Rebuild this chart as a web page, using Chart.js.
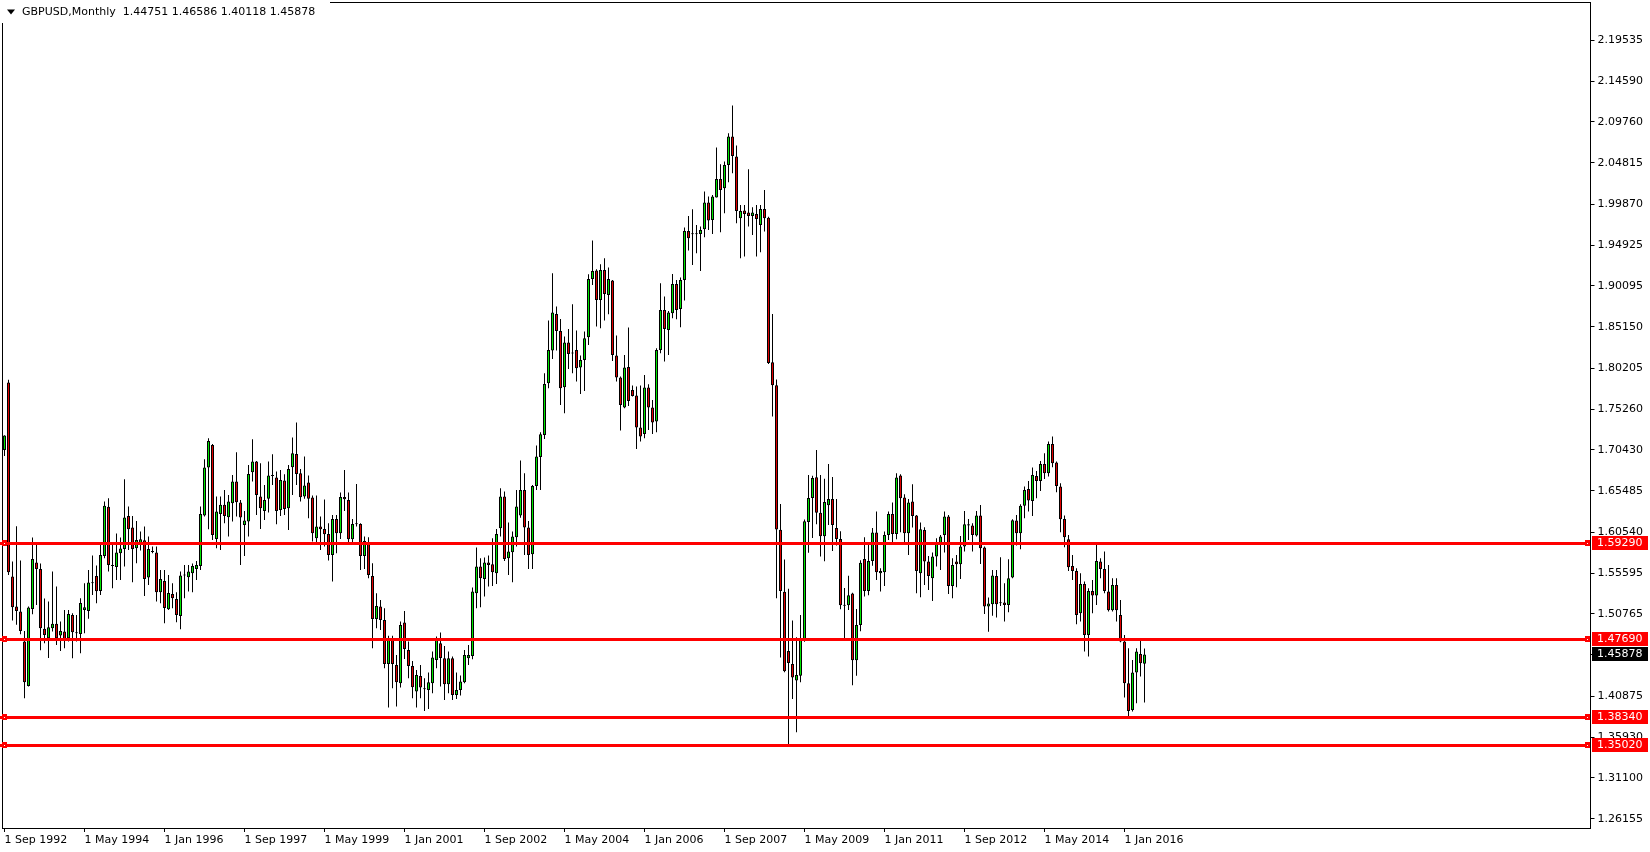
<!DOCTYPE html>
<html>
<head>
<meta charset="utf-8">
<title>GBPUSD Monthly</title>
<script src="https://cdn.jsdelivr.net/npm/chart.js@4.4.1/dist/chart.umd.min.js"></script>
<style>
  html, body { margin: 0; padding: 0; background: #fff; }
  #wrap { width: 1650px; height: 852px; }
</style>
</head>
<body>
<div id="wrap"><canvas id="chart" width="1650" height="852"></canvas></div>
<script>
// Monthly GBPUSD candles, Sep 1992 .. Jun 2016
const opens = [
  1.7040,1.7848,1.5521,1.5161,1.5101,1.4742,1.4210,1.5133,1.5689,1.5613,1.4894,1.4782,1.4902,1.4954,1.4814,1.4862,1.4782,1.5061,1.4850,1.4834,
  1.5121,1.5109,1.5441,1.5529,1.5349,1.5769,1.6357,1.5661,1.5637,1.5801,1.5853,1.6249,1.6109,1.5861,1.5921,1.5957,1.5509,1.5817,1.5809,1.5333,
  1.5469,1.5129,1.5313,1.5253,1.5049,1.5533,1.5513,1.5561,1.5613,1.5649,1.6253,1.6828,1.7100,1.5973,1.6273,1.6381,1.6233,1.6401,1.6660,1.6409,
  1.6141,1.6181,1.6772,1.6900,1.6480,1.6309,1.6453,1.6728,1.6708,1.6321,1.6672,1.6341,1.6832,1.6992,1.6760,1.6480,1.6648,1.6468,1.5981,1.6121,
  1.6093,1.6033,1.5781,1.6213,1.6041,1.6476,1.6440,1.5969,1.6157,1.6153,1.5769,1.5929,1.5529,1.5013,1.5161,1.5001,1.4474,1.4762,1.4462,1.4242,
  1.4969,1.4642,1.4450,1.4142,1.4330,1.4178,1.4162,1.4242,1.4522,1.4722,1.4542,1.4230,1.4542,1.4102,1.4162,1.4254,1.4542,1.4570,1.5321,1.5641,
  1.5493,1.5689,1.5669,1.5561,1.6101,1.6480,1.5741,1.5813,1.5993,1.6253,1.6560,1.6109,1.5789,1.6608,1.6956,1.7220,1.7840,1.8231,1.8671,1.8467,
  1.7792,1.8327,1.8195,1.8239,1.8027,1.8119,1.8391,1.9091,1.9191,1.8839,1.9199,1.8899,1.9071,1.8171,1.7907,1.7548,1.8035,1.7760,1.7692,1.7308,
  1.7232,1.7788,1.7548,1.7380,1.8239,1.8719,1.8479,1.8679,1.9031,1.8731,1.9079,1.9666,1.9634,1.9626,1.9630,1.9686,2.0006,1.9798,2.0066,2.0290,
  2.0178,2.0458,2.0797,2.0558,1.9818,1.9910,1.9886,1.9846,1.9870,1.9738,1.9930,1.9823,1.8092,1.7817,1.6082,1.5340,1.4630,1.4474,1.4275,1.4333,
  1.4764,1.6175,1.6463,1.6712,1.6286,1.6006,1.6375,1.6450,1.6104,1.5971,1.5176,1.5176,1.5318,1.4519,1.4941,1.5731,1.5349,1.5709,1.6049,1.5561,
  1.5573,1.6021,1.6272,1.6033,1.6732,1.6468,1.6041,1.6420,1.6253,1.5561,1.6081,1.5701,1.5501,1.5761,1.5921,1.6021,1.6241,1.5409,1.5701,1.5669,
  1.5881,1.6149,1.6133,1.6013,1.6253,1.5869,1.5161,1.5189,1.5529,1.5201,1.5209,1.5181,1.5509,1.6193,1.6041,1.6369,1.6572,1.6428,1.6728,1.6668,
  1.6872,1.6760,1.7112,1.6888,1.6600,1.6213,1.5969,1.5649,1.5589,1.5081,1.5433,1.4822,1.5349,1.5293,1.5701,1.5613,1.5341,1.5117,1.5421,1.5061,
  1.4742,1.4242,1.3922,1.4370,1.4594,1.44751
];
const highs = [
  1.7215,1.7880,1.5701,1.6125,1.5713,1.4870,1.5161,1.5989,1.5909,1.5677,1.5257,1.5221,1.5581,1.5401,1.4982,1.5121,1.5121,1.5081,1.5061,1.5261,
  1.5441,1.5601,1.5773,1.5653,1.5909,1.6421,1.6461,1.5909,1.6037,1.5989,1.6688,1.6361,1.6249,1.6189,1.6061,1.6121,1.6001,1.5881,1.5881,1.5601,
  1.5601,1.5541,1.5441,1.5333,1.5581,1.5661,1.5661,1.5677,1.5709,1.6361,1.6928,1.7180,1.7112,1.6480,1.6480,1.6560,1.6500,1.6740,1.7012,1.6440,
  1.6309,1.6860,1.7168,1.6908,1.6880,1.6620,1.6900,1.6988,1.6780,1.6800,1.6748,1.6860,1.7188,1.7368,1.6812,1.6960,1.6732,1.6492,1.6492,1.6241,
  1.6444,1.6161,1.6261,1.6261,1.6528,1.6800,1.6528,1.6213,1.6632,1.6161,1.6001,1.5993,1.5681,1.5321,1.5241,1.5141,1.4813,1.4813,1.4582,1.4981,
  1.5109,1.4742,1.4510,1.4402,1.4462,1.4302,1.4370,1.4622,1.4802,1.4850,1.4690,1.4622,1.4562,1.4370,1.4334,1.4642,1.4702,1.5389,1.5869,1.5741,
  1.5749,1.5773,1.5981,1.6093,1.6580,1.6540,1.6169,1.6061,1.6560,1.6912,1.6760,1.6189,1.6620,1.7092,1.7252,1.7959,1.8591,1.9159,1.8759,1.8611,
  1.8399,1.8491,1.8787,1.8471,1.8171,1.8459,1.9147,1.9550,1.9207,1.9267,1.9338,1.9227,1.9079,1.8411,1.7919,1.8179,1.8507,1.7812,1.7800,1.7812,
  1.7939,1.7828,1.7640,1.8259,1.9039,1.8879,1.8707,1.9151,1.9079,1.9107,1.9706,1.9846,1.9926,1.9738,1.9718,2.0138,2.0078,2.0098,2.0666,2.0466,
  2.0498,2.0837,2.1169,2.0690,1.9978,1.9978,2.0406,1.9950,1.9978,1.9978,2.0158,1.9837,1.8669,1.7884,1.6392,1.5727,1.5376,1.4994,1.4795,1.5061,
  1.6206,1.6738,1.6730,1.7040,1.6738,1.6694,1.6872,1.6716,1.6450,1.6064,1.5385,1.5531,1.5327,1.5132,1.5718,1.5993,1.5926,1.6104,1.6301,1.5621,
  1.6061,1.6301,1.6408,1.6760,1.6748,1.6508,1.6452,1.6628,1.6261,1.6169,1.6113,1.5769,1.5809,1.5981,1.6021,1.6301,1.6261,1.5741,1.5781,1.6009,
  1.6309,1.6213,1.6161,1.6309,1.6380,1.5881,1.5269,1.5601,1.5601,1.5753,1.5441,1.5729,1.6209,1.6261,1.6389,1.6600,1.6668,1.6828,1.6788,1.6908,
  1.7000,1.7140,1.7200,1.6900,1.6640,1.6253,1.6021,1.5781,1.5620,1.5561,1.5461,1.5381,1.5481,1.5921,1.5741,1.5821,1.5661,1.5501,1.5501,1.5241,
  1.4822,1.4662,1.4522,1.4662,1.4774,1.46586
];
const lows = [
  1.6968,1.5541,1.4993,1.4942,1.4830,1.4062,1.4202,1.5069,1.5181,1.4638,1.4722,1.4546,1.4862,1.4702,1.4630,1.4662,1.4742,1.4542,1.4742,1.4602,
  1.4842,1.5014,1.5301,1.5201,1.5301,1.5741,1.5581,1.5381,1.5481,1.5481,1.5641,1.5841,1.5453,1.5681,1.5833,1.5289,1.5421,1.5801,1.5221,1.5201,
  1.4961,1.5121,1.5141,1.4973,1.4889,1.5261,1.5341,1.5333,1.5481,1.5601,1.6241,1.6089,1.5961,1.5861,1.5841,1.6161,1.6001,1.6181,1.6241,1.5661,
  1.5769,1.6001,1.6660,1.6261,1.6093,1.6201,1.6289,1.6620,1.6149,1.6249,1.6261,1.6081,1.6500,1.6620,1.6420,1.6453,1.6221,1.5941,1.5933,1.5841,
  1.5881,1.5713,1.5461,1.5801,1.5973,1.6308,1.5909,1.5921,1.6121,1.5601,1.5613,1.5501,1.4662,1.4901,1.4881,1.4422,1.3950,1.4182,1.3962,1.4190,
  1.4534,1.4302,1.4062,1.3950,1.4062,1.3910,1.3934,1.4122,1.4422,1.4202,1.4042,1.4122,1.4042,1.4054,1.4094,1.4242,1.4462,1.4530,1.5141,1.5153,
  1.5281,1.5401,1.5409,1.5433,1.6001,1.5709,1.5541,1.5453,1.5881,1.6228,1.5781,1.5613,1.5613,1.6560,1.6560,1.7172,1.7780,1.8131,1.8231,1.7580,
  1.7480,1.8011,1.7959,1.7859,1.7712,1.7747,1.8299,1.9019,1.8519,1.8499,1.8591,1.8667,1.8107,1.7860,1.7272,1.7540,1.7568,1.7680,1.7052,1.7140,
  1.7180,1.7280,1.7232,1.7252,1.8199,1.8099,1.8179,1.8619,1.8607,1.8511,1.8831,1.9430,1.9258,1.9398,1.9187,1.9590,1.9678,1.9630,2.0066,1.9650,
  1.9878,2.0250,2.0358,1.9758,1.9338,1.9358,1.9718,1.9618,1.9358,1.9410,1.9658,1.8070,1.7440,1.5261,1.4550,1.4373,1.3499,1.4053,1.3654,1.4253,
  1.4741,1.5807,1.5984,1.6148,1.5762,1.5704,1.6139,1.5829,1.5895,1.5128,1.4777,1.5119,1.4218,1.4333,1.4866,1.5283,1.5296,1.5651,1.5481,1.5341,
  1.5409,1.5961,1.5933,1.5969,1.6053,1.5909,1.5781,1.6109,1.5321,1.5273,1.5421,1.5361,1.5229,1.5641,1.5601,1.5809,1.5313,1.5261,1.5393,1.5493,
  1.5821,1.5961,1.5821,1.6001,1.5673,1.5073,1.4861,1.5050,1.5029,1.5169,1.4981,1.5093,1.5501,1.5893,1.5849,1.6221,1.6301,1.6249,1.6460,1.6548,
  1.6692,1.6720,1.6832,1.6532,1.6053,1.5873,1.5589,1.5481,1.4950,1.4981,1.4622,1.4562,1.5081,1.5181,1.5501,1.5321,1.5101,1.5101,1.4981,1.4734,
  1.4070,1.3842,1.3902,1.4002,1.4322,1.40118
];
const closes = [
  1.7212,1.5573,1.5153,1.5109,1.4870,1.4254,1.5149,1.5733,1.5613,1.4902,1.4822,1.4913,1.4954,1.4782,1.4870,1.4762,1.5073,1.4854,1.4842,1.5205,
  1.5153,1.5449,1.5445,1.5345,1.5781,1.6369,1.5661,1.5649,1.5809,1.5857,1.6229,1.6089,1.5853,1.5961,1.5969,1.5493,1.5853,1.5821,1.5333,1.5493,
  1.5145,1.5325,1.5261,1.5061,1.5533,1.5537,1.5581,1.5649,1.5661,1.6273,1.6828,1.7148,1.6021,1.6301,1.6381,1.6249,1.6420,1.6660,1.6412,1.6229,
  1.6193,1.6752,1.6900,1.6500,1.6341,1.6440,1.6732,1.6732,1.6309,1.6680,1.6333,1.6812,1.7000,1.6752,1.6472,1.6612,1.6453,1.6041,1.6121,1.6089,
  1.6029,1.5781,1.6213,1.6041,1.6476,1.6448,1.5969,1.6153,1.6149,1.5769,1.5949,1.5541,1.5013,1.5169,1.5001,1.4474,1.4782,1.4474,1.4254,1.4941,
  1.4654,1.4450,1.4194,1.4342,1.4190,1.4170,1.4254,1.4550,1.4770,1.4546,1.4230,1.4542,1.4102,1.4162,1.4262,1.4582,1.4582,1.5341,1.5641,1.5501,
  1.5689,1.5661,1.5573,1.6033,1.6480,1.5733,1.5821,1.6001,1.6361,1.6560,1.6109,1.5781,1.6608,1.6960,1.7228,1.7831,1.8239,1.8687,1.8467,1.7780,
  1.8327,1.8191,1.8199,1.8019,1.8119,1.8379,1.9091,1.9187,1.8839,1.9199,1.8911,1.9091,1.8179,1.7907,1.7580,1.8027,1.7628,1.7688,1.7308,1.7200,
  1.7788,1.7548,1.7368,1.8239,1.8719,1.8491,1.8687,1.9031,1.8719,1.9079,1.9666,1.9578,1.9626,1.9630,1.9678,2.0006,1.9790,2.0078,2.0290,2.0158,
  2.0458,2.0797,2.0566,1.9906,1.9906,1.9870,1.9846,1.9886,1.9810,1.9930,1.9818,1.8083,1.7817,1.6086,1.5349,1.4386,1.4484,1.4311,1.4342,1.4777,
  1.6184,1.6463,1.6703,1.6286,1.6006,1.6415,1.6450,1.6139,1.5971,1.5176,1.5170,1.5296,1.4519,1.4941,1.5687,1.5349,1.5709,1.6049,1.5573,1.5589,
  1.6021,1.6272,1.6033,1.6708,1.6460,1.6041,1.6408,1.6249,1.5589,1.6089,1.5701,1.5529,1.5761,1.5929,1.6001,1.6241,1.5409,1.5661,1.5669,1.5881,
  1.6149,1.6133,1.6021,1.6253,1.5861,1.5161,1.5197,1.5533,1.5189,1.5205,1.5181,1.5501,1.6197,1.6041,1.6369,1.6560,1.6432,1.6740,1.6668,1.6872,
  1.6760,1.7112,1.6880,1.6608,1.6209,1.5993,1.5633,1.5589,1.5061,1.5433,1.4822,1.5349,1.5293,1.5709,1.5613,1.5349,1.5117,1.5421,1.5117,1.4742,
  1.4242,1.3910,1.4370,1.4622,1.4482,1.45878
];

// Price axis tick labels as printed on the right
const yTicks = [1.26155, 1.31100, 1.35930, 1.40875, 1.45820, 1.50765, 1.55595, 1.60540, 1.65485, 1.70430,
                1.75260, 1.80205, 1.85150, 1.90095, 1.94925, 1.99870, 2.04815, 2.09760, 2.14590, 2.19535];
// Horizontal levels drawn in red
const levels = [1.59290, 1.47690, 1.38340, 1.35020];

const symbol = 'GBPUSD,Monthly';
const monthNames = ['Jan', 'Feb', 'Mar', 'Apr', 'May', 'Jun', 'Jul', 'Aug', 'Sep', 'Oct', 'Nov', 'Dec'];
const slotCount = 397;   // visible bar slots incl. empty space on the right
const labelEvery = 20;

const labels = [];
for (let i = 0; i < slotCount; i++) {
    const m = 8 + i;
    labels.push('1 ' + monthNames[m % 12] + ' ' + (1992 + Math.floor(m / 12)));
}

const last = opens.length - 1;
const bullColor = '#00e600';
const bearColor = '#e00000';
const font = { family: '"DejaVu Sans", sans-serif', size: 11 };

const overlay = {
    id: 'overlay',
    beforeDraw(chart) {
        const c = chart.ctx;
        c.save();
        c.fillStyle = '#fff';
        c.fillRect(0, 0, chart.width, chart.height);
        c.restore();
    },
    afterDraw(chart) {
        const c = chart.ctx;
        const a = chart.chartArea;
        const y = chart.scales.y;
        const r = Math.floor(a.right);
        c.save();

        // chart frame
        c.strokeStyle = '#000';
        c.lineWidth = 1;
        c.strokeRect(Math.floor(a.left) + 0.5, Math.floor(a.top) + 0.5,
                     r - Math.floor(a.left), Math.floor(a.bottom) - Math.floor(a.top));

        // red levels with markers and price boxes
        c.font = '11px "DejaVu Sans", sans-serif';
        c.textBaseline = 'middle';
        levels.forEach(lv => {
            const py = Math.round(y.getPixelForValue(lv));
            c.fillStyle = '#ff0000';
            c.fillRect(0, py - 1, r, 3);
            c.fillRect(2, py - 3, 5, 6);
            c.fillRect(r - 5, py - 3, 5, 6);
            c.fillRect(r + 2, py - 7, 56, 14);
            c.fillStyle = '#fff';
            c.fillRect(4, py, 1, 1);
            c.fillRect(r - 3, py, 1, 1);
            c.fillText(lv.toFixed(5), r + 7, py + 0.5);
        });

        // current price box
        const cp = Math.round(y.getPixelForValue(closes[last]));
        c.fillStyle = '#000';
        c.fillRect(r + 2, cp - 7, 56, 14);
        c.fillStyle = '#fff';
        c.fillText(closes[last].toFixed(5), r + 7, cp + 0.5);

        // header
        c.fillStyle = '#fff';
        c.fillRect(0, 0, 330, 23);
        c.fillStyle = '#000';
        c.beginPath();
        c.moveTo(7, 9.5);
        c.lineTo(15, 9.5);
        c.lineTo(11, 14.5);
        c.closePath();
        c.fill();
        const head = symbol + '  ' + [opens[last], highs[last], lows[last], closes[last]].map(v => v.toFixed(5)).join(' ');
        c.fillText(head, 22, 12.5);
        c.restore();
    }
};

const ctx = document.getElementById('chart');
new Chart(ctx, {
    type: 'bar',
    data: {
        labels: labels,
        datasets: [
            {
                // candle bodies
                data: opens.map((o, i) => [o, closes[i]]),
                backgroundColor: opens.map((o, i) => closes[i] >= o ? bullColor : bearColor),
                borderColor: '#000',
                borderWidth: 1,
                borderSkipped: false,
                barThickness: 3,
                minBarLength: 1,
                inflateAmount: 0,
                grouped: false,
                order: 0
            },
            {
                // wicks
                data: lows.map((l, i) => [l, highs[i]]),
                backgroundColor: '#000',
                borderWidth: 0,
                barThickness: 1,
                inflateAmount: 0,
                grouped: false,
                order: 1
            }
        ]
    },
    options: {
        responsive: false,
        animation: false,
        events: [],
        devicePixelRatio: 1,
        layout: { padding: { left: 2.5, top: 2, right: 0, bottom: 0 } },
        plugins: {
            legend: { display: false },
            tooltip: { enabled: false }
        },
        scales: {
            x: {
                type: 'category',
                offset: true,
                border: { display: false },
                grid: {
                    offset: false,
                    drawOnChartArea: false,
                    drawTicks: true,
                    tickLength: 4,
                    color: (c) => (c.index % labelEvery === 0 && c.index <= last) ? '#000' : 'rgba(0,0,0,0)'
                },
                ticks: {
                    autoSkip: false,
                    maxRotation: 0,
                    minRotation: 0,
                    align: 'start',
                    padding: 2,
                    color: '#000',
                    font: font,
                    callback: (v, i) => (i % labelEvery === 0 && i <= last) ? labels[i] : ''
                },
                afterFit: (s) => {
                    s.height = 24;
                    s.paddingLeft = 0;
                    s.paddingRight = 0;
                }
            },
            y: {
                type: 'linear',
                position: 'right',
                min: 1.25061,
                max: 2.24114,
                border: { display: false },
                grid: { drawOnChartArea: false, tickLength: 4, color: '#000' },
                ticks: {
                    autoSkip: false,
                    padding: 3,
                    color: '#000',
                    font: font,
                    callback: (v) => v.toFixed(5)
                },
                afterBuildTicks: (s) => { s.ticks = yTicks.map(v => ({ value: v })); },
                afterFit: (s) => {
                    s.width = 59.5;
                    s.paddingTop = 0;
                    s.paddingBottom = 0;
                }
            }
        }
    },
    plugins: [overlay]
});
</script>
</body>
</html>
